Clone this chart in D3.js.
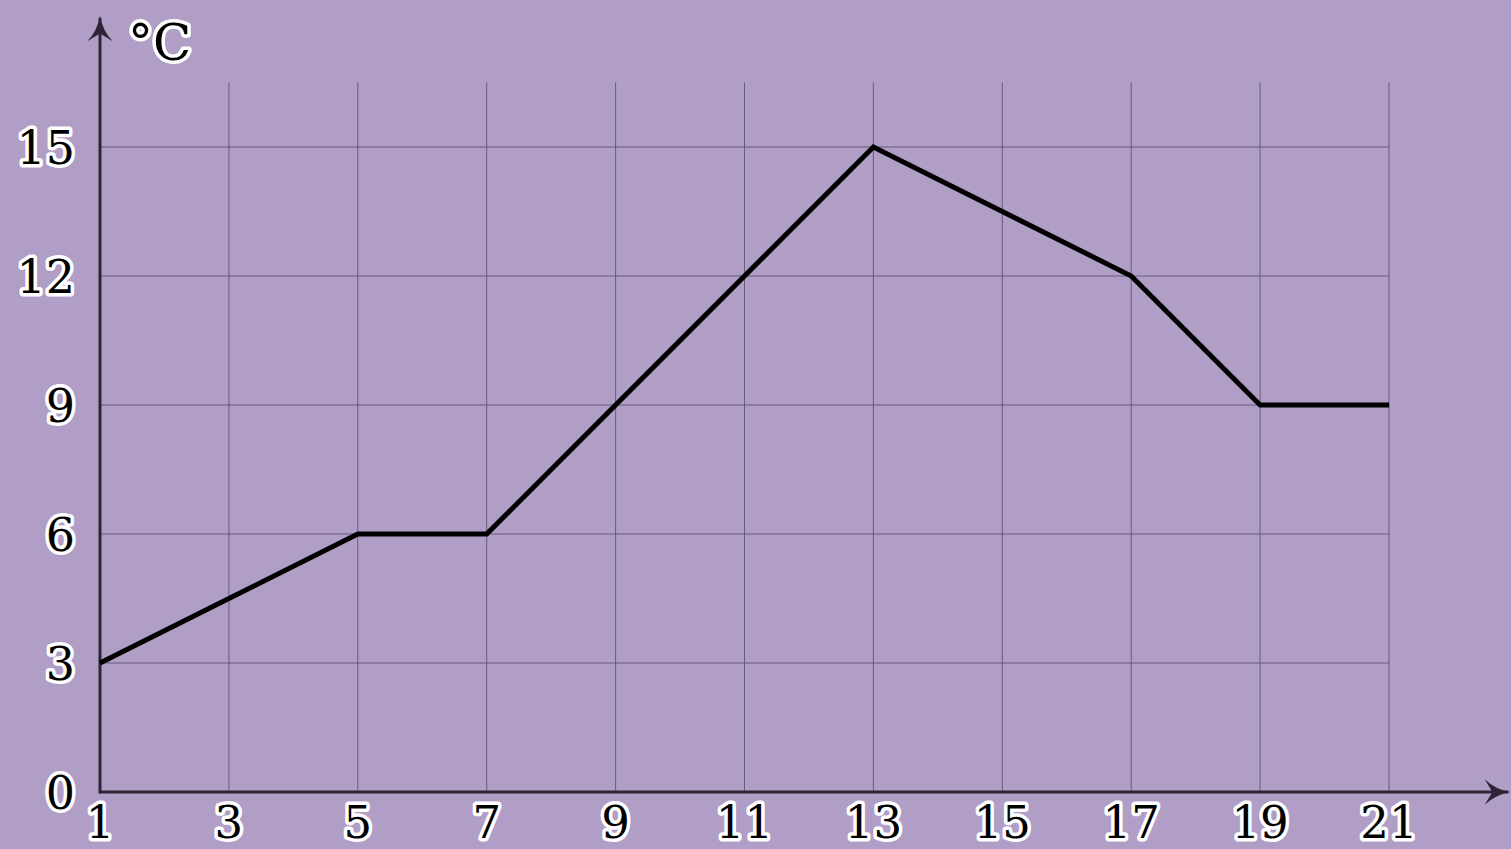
<!DOCTYPE html>
<html lang="en">
<head>
<meta charset="UTF-8">
<title>Temperature chart</title>
<script src="https://d3js.org/d3.v7.min.js"></script>
<style>
  html, body { margin: 0; padding: 0; background: #b09ec6; overflow: hidden; }
  text { font-family: "DejaVu Serif", serif; }
</style>
</head>
<body>
<script>
// data
var hours = [1, 3, 5, 7, 9, 11, 13, 15, 17, 19, 21];
var temps = [3, 4.5, 6, 6, 9, 12, 15, 13.5, 12, 9, 9];
var xTicks = [1, 3, 5, 7, 9, 11, 13, 15, 17, 19, 21];
var yTicks = [0, 3, 6, 9, 12, 15];
var unitLabel = "°C";

var width = 1511, height = 849;

var svg = d3.select("body").append("svg")
    .attr("width", width)
    .attr("height", height);

svg.append("rect").attr("width", width).attr("height", height).attr("fill", "#b09ec6");

var x = d3.scaleLinear().domain([1, 21]).range([100, 1389]);
var y = d3.scaleLinear().domain([0, 15]).range([792, 147]);

// grid
var grid = svg.append("g").attr("stroke", "#5e4f6c").attr("stroke-width", 1).attr("stroke-opacity", 0.85);
grid.selectAll(".vg")
    .data(xTicks.slice(1))
    .enter().append("line")
    .attr("x1", function (d) { return x(d); })
    .attr("x2", function (d) { return x(d); })
    .attr("y1", y(0))
    .attr("y2", y(16.5));
grid.selectAll(".hg")
    .data(yTicks.slice(1))
    .enter().append("line")
    .attr("x1", x(1))
    .attr("x2", x(21))
    .attr("y1", function (d) { return y(d); })
    .attr("y2", function (d) { return y(d); });

// axes with arrows
var axisColor = "#2e2438";
svg.append("defs").append("marker")
    .attr("id", "arrow")
    .attr("viewBox", "0 0 10 10")
    .attr("refX", 9).attr("refY", 5)
    .attr("markerWidth", 26).attr("markerHeight", 26)
    .attr("markerUnits", "userSpaceOnUse")
    .attr("orient", "auto")
    .append("path")
    .attr("d", "M0,0 Q4,4 10,5 Q4,6 0,10 L3,5 Z")
    .attr("fill", axisColor);

svg.append("line")
    .attr("x1", x(1)).attr("y1", y(0))
    .attr("x2", 1508).attr("y2", y(0))
    .attr("stroke", axisColor).attr("stroke-width", 3)
    .attr("marker-end", "url(#arrow)");
svg.append("line")
    .attr("x1", x(1)).attr("y1", y(0) + 1.5)
    .attr("x2", x(1)).attr("y2", 18)
    .attr("stroke", axisColor).attr("stroke-width", 3)
    .attr("marker-end", "url(#arrow)");

// data line
var line = d3.line()
    .x(function (d, i) { return x(hours[i]); })
    .y(function (d) { return y(d); });
svg.append("path")
    .datum(temps)
    .attr("d", line)
    .attr("fill", "none")
    .attr("stroke", "#000")
    .attr("stroke-width", 5)
    .attr("stroke-linejoin", "miter");

// labels with white halo
function halo(sel, size) {
    sel.attr("font-size", size)
        .attr("fill", "#000")
        .attr("stroke", "#fff")
        .attr("stroke-width", 7)
        .attr("stroke-linejoin", "round")
        .attr("paint-order", "stroke");
}

svg.selectAll(".xl")
    .data(xTicks)
    .enter().append("text")
    .attr("x", function (d) { return x(d); })
    .attr("y", 838)
    .attr("text-anchor", "middle")
    .text(function (d) { return d; })
    .call(halo, 45);

svg.selectAll(".yl")
    .data(yTicks)
    .enter().append("text")
    .attr("x", 75)
    .attr("y", function (d) { return y(d) + 17; })
    .attr("text-anchor", "end")
    .text(function (d) { return d; })
    .call(halo, 46);

svg.append("text")
    .attr("x", 128)
    .attr("y", 60)
    .text(unitLabel)
    .call(halo, 50);
</script>
</body>
</html>
